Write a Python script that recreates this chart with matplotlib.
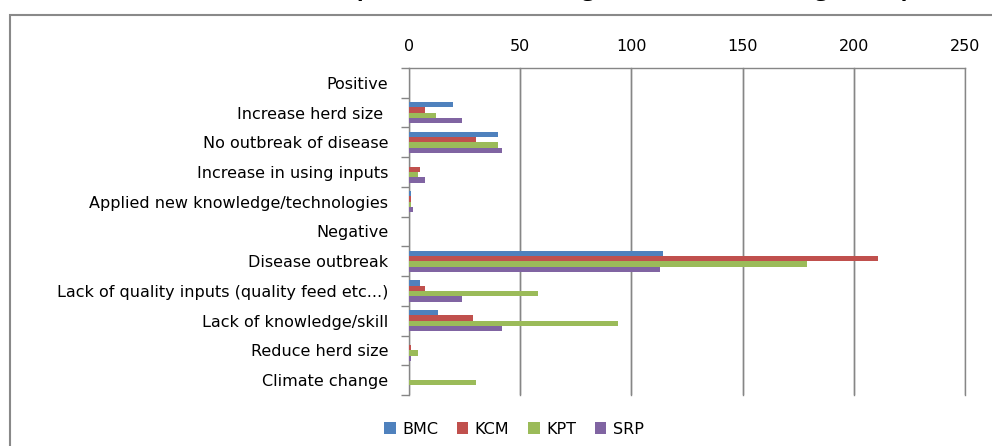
import matplotlib
matplotlib.use("Agg")
import numpy as np
import matplotlib.pyplot as plt
from matplotlib.patches import Rectangle

# categories, listed top to bottom
categories = ["Positive", "Increase herd size ", "No outbreak of disease",
              "Increase in using inputs", "Applied new knowledge/technologies",
              "Negative", "Disease outbreak",
              "Lack of quality inputs (quality feed etc...)",
              "Lack of knowledge/skill", "Reduce herd size", "Climate change"]

# number of responses per district
bmc = [0, 20, 40, 0, 1, 0, 114, 5, 13, 0, 0]
kcm = [0, 7, 30, 5, 1, 0, 211, 7, 29, 1, 0]
kpt = [0, 12, 40, 4, 1, 0, 179, 58, 94, 4, 30]
srp = [0, 24, 42, 7, 2, 0, 113, 24, 42, 1, 0]

series_names = ["BMC", "KCM", "KPT", "SRP"]
colors = ["#4F81BD", "#C0504D", "#9BBB59", "#8064A2"]
xticks = [0, 50, 100, 150, 200, 250]

title = "Perceived impact of climate change on livestock raising (% respondents)"

plt.rcParams['font.family'] = ['DejaVu Sans']
fs = 11.5
grid_c = "#868686"

fig = plt.figure(figsize=(9.92, 4.46), dpi=100)
W, H = 992, 446

# axes box in pixel terms
left, right, top, bottom = 409, 965, 68, 395
ax = fig.add_axes([left / W, 1 - bottom / H, (right - left) / W, (bottom - top) / H])

y = np.arange(len(categories))
bar_h = 0.18
offsets = [-0.27, -0.09, 0.09, 0.27]
for vals, name, c, off in zip([bmc, kcm, kpt, srp], series_names, colors, offsets):
    ax.barh(y + off, vals, height=bar_h, color=c, label=name, zorder=3)

ax.set_xlim(0, 250)
ax.set_ylim(len(categories) - 0.5, -0.5)

# value axis on top
ax.xaxis.tick_top()
ax.set_xticks(xticks)
ax.set_xticklabels([str(t) for t in xticks], fontsize=fs)
ax.tick_params(axis='x', length=0, pad=10)
ax.grid(axis='x', color=grid_c, linewidth=1.0, zorder=0)
for gx in xticks[1:]:
    ax.axvline(gx, color=grid_c, linewidth=1.0, zorder=0, clip_on=False)

# category labels, tick marks between groups
ax.set_yticks(y)
ax.set_yticklabels(categories, fontsize=fs)
ax.set_yticks(np.arange(len(categories) + 1) - 0.5, minor=True)
ax.tick_params(axis='y', which='major', length=0, pad=15)
ax.tick_params(axis='y', which='minor', length=6, color=grid_c, width=1.0)

for s in ["right", "bottom"]:
    ax.spines[s].set_visible(False)
for s in ["left", "top"]:
    ax.spines[s].set_color(grid_c)
    ax.spines[s].set_linewidth(1.0)

fig.legend(loc='center', bbox_to_anchor=(514 / W, 1 - 429 / H), ncol=4,
           frameon=False, fontsize=fs, handlelength=0.7, handleheight=0.7,
           handletextpad=0.4, columnspacing=1.2)

# chart area border
fig.patches.append(Rectangle((10 / W, -0.05), 1.1, 1 - 15 / H + 0.05,
                             transform=fig.transFigure, fill=False,
                             edgecolor="#898989", linewidth=1.5))

fig.text(614 / W, 1.009, title, ha='center', va='baseline', fontsize=16,
         fontweight='bold', family='Open Sans')

fig.savefig("out.png", dpi=100)
